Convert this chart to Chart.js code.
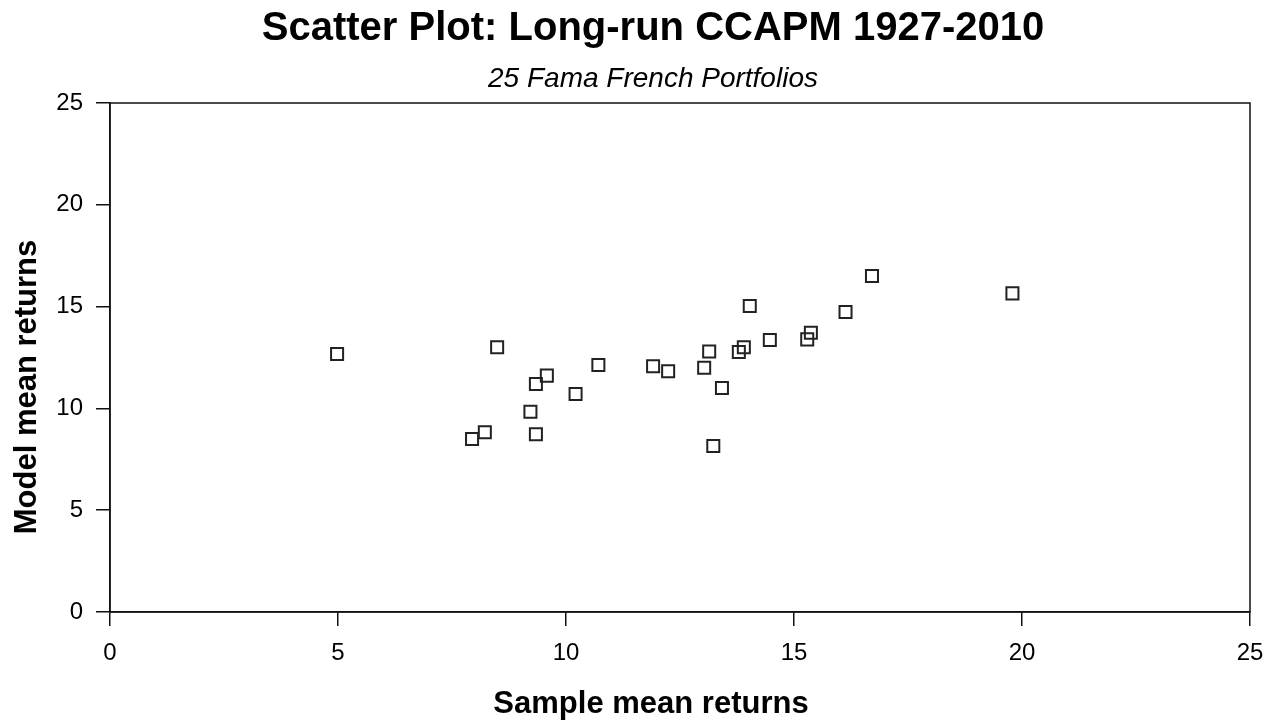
<!DOCTYPE html>
<html>
<head>
<meta charset="utf-8">
<title>Scatter Plot: Long-run CCAPM 1927-2010</title>
<script src="https://cdn.jsdelivr.net/npm/chart.js@4/dist/chart.umd.min.js"></script>
<style>
  html, body { margin: 0; padding: 0; background: #fff; }
  canvas { display: block; }
</style>
</head>
<body>
<canvas id="chart" width="1268" height="720"></canvas>
<script>
// titles
const titleText = 'Scatter Plot: Long-run CCAPM 1927-2010';
const subtitleText = '25 Fama French Portfolios';
const xTitle = 'Sample mean returns';
const yTitle = 'Model mean returns';

// 25 portfolios: sample mean vs model mean
const sampleMean = [4.98, 7.94, 8.22, 8.49, 9.22, 9.34, 9.34, 9.58, 10.21, 10.71,
  11.91, 12.24, 13.03, 13.14, 13.23, 13.42, 13.79, 13.90, 14.03, 14.47,
  15.29, 15.37, 16.13, 16.71, 19.79];
const modelMean = [12.67, 8.50, 8.83, 13.00, 9.84, 11.20, 8.73, 11.61, 10.71, 12.13,
  12.07, 11.82, 12.00, 12.79, 8.15, 11.00, 12.77, 13.00, 15.03, 13.36,
  13.39, 13.72, 14.73, 16.50, 15.65];

// axis ticks
const xTicks = [0, 5, 10, 15, 20, 25];
const yTicks = [0, 5, 10, 15, 20, 25];

const FONT = '"Liberation Sans", Arial, Helvetica, sans-serif';
const INK = '#111';

const points = sampleMean.map((x, i) => ({ x: x, y: modelMean[i] }));

// box round the plot + the title texts
const framePlugin = {
  id: 'frame',
  afterDraw(chart) {
    const { ctx, chartArea: a } = chart;
    ctx.save();
    ctx.strokeStyle = INK;
    ctx.lineWidth = 1.5;
    ctx.strokeRect(a.left, a.top, a.right - a.left, a.bottom - a.top);

    ctx.fillStyle = '#000';
    ctx.textAlign = 'center';
    ctx.textBaseline = 'alphabetic';
    ctx.font = 'bold 40px ' + FONT;
    ctx.fillText(titleText, 653, 40);
    ctx.font = 'italic 28px ' + FONT;
    ctx.fillText(subtitleText, 653, 87);
    ctx.font = 'bold 31px ' + FONT;
    ctx.fillText(xTitle, 651, 713);

    ctx.translate(36, 387);
    ctx.rotate(-Math.PI / 2);
    ctx.fillText(yTitle, 0, 0);
    ctx.restore();
  }
};

new Chart(document.getElementById('chart'), {
  type: 'scatter',
  data: {
    datasets: [{
      data: points,
      pointStyle: 'rect',
      pointRadius: 8.5,
      pointHoverRadius: 8.5,
      pointBorderWidth: 2,
      borderColor: '#222',
      backgroundColor: 'rgba(0,0,0,0)'
    }]
  },
  options: {
    responsive: false,
    devicePixelRatio: 1,
    animation: false,
    layout: { padding: { top: 103, right: 18, left: 0, bottom: 0 } },
    plugins: {
      legend: { display: false },
      tooltip: { enabled: false }
    },
    scales: {
      x: {
        type: 'linear',
        min: 0,
        max: 25,
        afterFit: s => { s.height = 108; s.paddingLeft = 0; s.paddingRight = 0; },
        afterBuildTicks: s => { s.ticks = xTicks.map(v => ({ value: v })); },
        grid: { drawOnChartArea: false, drawTicks: true, tickLength: 14, color: INK, lineWidth: 1.5 },
        border: { display: true, color: INK, width: 1.5 },
        ticks: { color: '#000', padding: 13, maxRotation: 0, font: { family: FONT, size: 24 } }
      },
      y: {
        type: 'linear',
        min: 0,
        max: 25,
        afterFit: s => { s.width = 110; s.paddingTop = 0; s.paddingBottom = 0; },
        afterBuildTicks: s => { s.ticks = yTicks.map(v => ({ value: v })); },
        grid: { drawOnChartArea: false, drawTicks: true, tickLength: 14, color: INK, lineWidth: 1.5 },
        border: { display: true, color: INK, width: 1.5 },
        ticks: { color: '#000', padding: 13, font: { family: FONT, size: 24 } }
      }
    }
  },
  plugins: [framePlugin]
});
</script>
</body>
</html>
